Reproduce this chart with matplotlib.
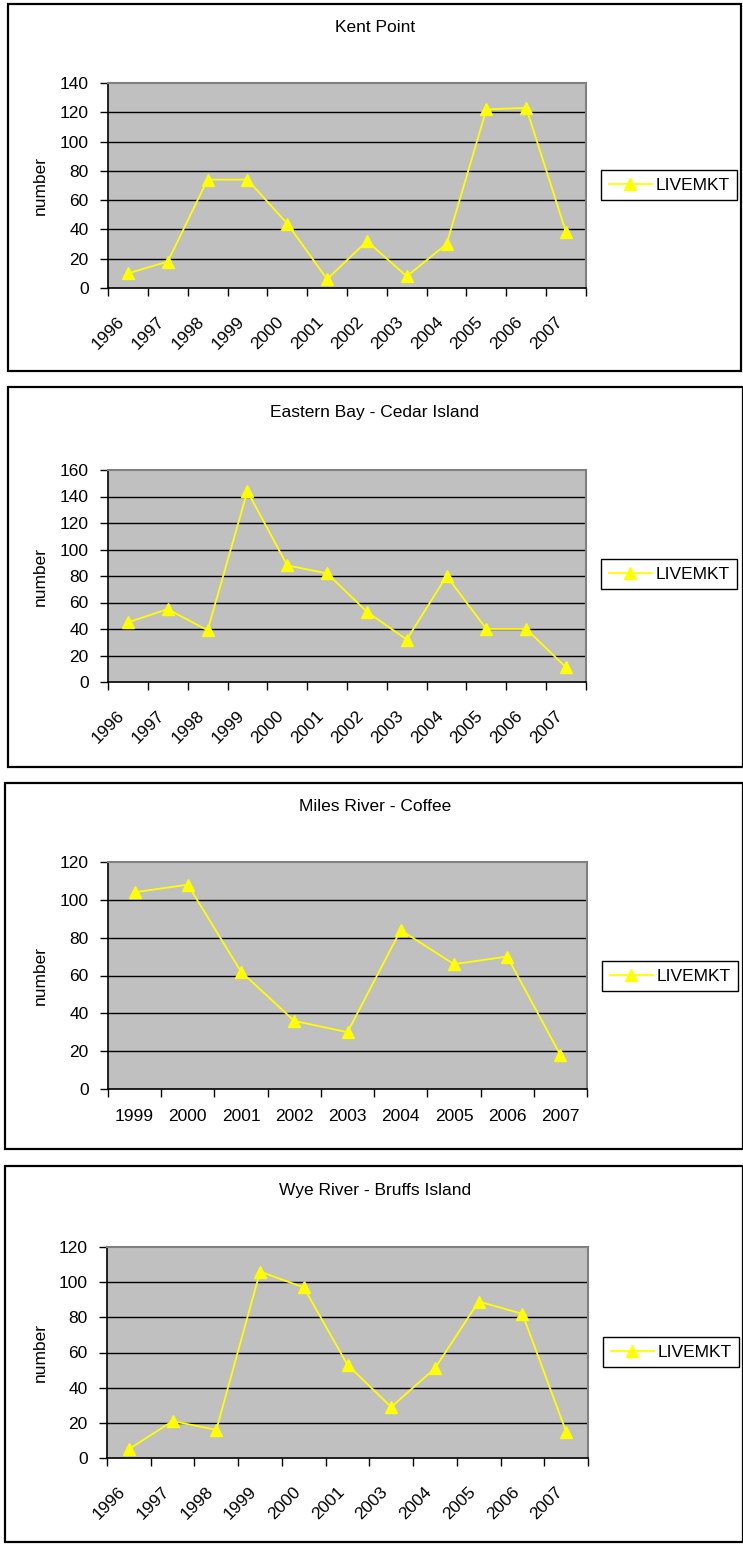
import numpy as np
import matplotlib
matplotlib.use("Agg")
import matplotlib.pyplot as plt
from matplotlib.patches import Rectangle
from matplotlib.transforms import ScaledTranslation, blended_transform_factory

plt.rcParams['font.family'] = ['Liberation Sans', 'DejaVu Sans']

# ---- data -------------------------------------------------------------
kent_years = ["1996", "1997", "1998", "1999", "2000", "2001",
              "2002", "2003", "2004", "2005", "2006", "2007"]
kent_live = [10, 18, 74, 74, 44, 6, 32, 8, 30, 122, 123, 38]

eastern_years = ["1996", "1997", "1998", "1999", "2000", "2001",
                 "2002", "2003", "2004", "2005", "2006", "2007"]
eastern_live = [45, 55, 39, 144, 88, 82, 53, 32, 80, 40, 40, 11]

miles_years = ["1999", "2000", "2001", "2002", "2003",
               "2004", "2005", "2006", "2007"]
miles_live = [104, 108, 62, 36, 30, 84, 66, 70, 18]

wye_years = ["1996", "1997", "1998", "1999", "2000", "2001",
             "2003", "2004", "2005", "2006", "2007"]
wye_live = [5, 21, 16, 106, 97, 53, 29, 51, 89, 82, 15]

titles = ["Kent Point", "Eastern Bay - Cedar Island",
          "Miles River - Coffee", "Wye River - Bruffs Island"]
y_max = [140, 160, 120, 120]
rotated = [True, True, False, True]
series_name = "LIVEMKT"

# ---- layout (pixels) --------------------------------------------------
W, H = 743, 1546
fig = plt.figure(figsize=(W / 100, H / 100), dpi=100)
fig.patch.set_facecolor("white")


def fx(x):
    return x / W


def fy(y):
    return 1 - y / H


panels = [
    # box(x0,y0,x1,y1), title_y, plot(x0,y0,x1,y1), legend center(x,y)
    ((8, 4, 741, 371), 28, (108, 83, 586, 288), (669, 185)),
    ((8, 387, 743, 767), 413, (108, 470, 586, 682), (669, 574)),
    ((5, 783, 743, 1149), 807, (108, 862, 587, 1089), (670, 976)),
    ((5, 1166, 743, 1542), 1191, (107, 1247, 588, 1458), (671, 1352)),
]

datasets = [(kent_years, kent_live), (eastern_years, eastern_live),
            (miles_years, miles_live), (wye_years, wye_live)]

FS = 12.5

for i, ((bx0, by0, bx1, by1), ty, (px0, py0, px1, py1), (lx, ly)) in enumerate(panels):
    years, vals = datasets[i]
    n = len(years)

    # outer chart frame
    fig.patches.append(Rectangle((fx(bx0), fy(by1)), fx(bx1 - bx0), (by1 - by0) / H,
                                 transform=fig.transFigure, fill=False,
                                 edgecolor="black", linewidth=1.6, zorder=0))
    fig.text(fx(375), fy(ty), titles[i], ha="center", va="center", fontsize=FS)

    ax = fig.add_axes([fx(px0), fy(py1), fx(px1 - px0), (py1 - py0) / H])
    ax.set_facecolor("#C0C0C0")
    x = np.arange(n) + 0.5
    line, = ax.plot(x, vals, color="#FFFF00", linewidth=1.3, marker="^",
                    markersize=9, markerfacecolor="#FFFF00",
                    markeredgecolor="#FFFF00", zorder=3, label=series_name,
                    clip_on=False)

    ax.set_xlim(0, n)
    ax.set_ylim(0, y_max[i])
    ax.set_yticks(np.arange(0, y_max[i] + 1, 20))
    for yv in np.arange(20, y_max[i], 20):
        ax.axhline(yv, color="black", linewidth=1.0, zorder=1)

    # category boundaries carry tick marks; year labels sit at the centres
    ax.set_xticks(np.arange(n + 1))
    ax.set_xticklabels([])
    ax.tick_params(axis="x", which="major", direction="out", length=6,
                   width=1, color="black")
    base = blended_transform_factory(ax.transData, ax.transAxes)
    if rotated[i]:
        off = ScaledTranslation(-11 / 100, -26 / 100, fig.dpi_scale_trans)
        for xc, lab in zip(x, years):
            ax.text(xc, 0, lab, transform=base + off, rotation=45,
                    rotation_mode="anchor", ha="right", va="top",
                    fontsize=FS, clip_on=False)
    else:
        off = ScaledTranslation(0, -20 / 100, fig.dpi_scale_trans)
        for xc, lab in zip(x, years):
            ax.text(xc, 0, lab, transform=base + off, ha="center", va="top",
                    fontsize=FS, clip_on=False)

    ax.tick_params(axis="y", direction="out", length=6, width=1,
                   color="black", labelsize=FS, pad=8)

    ax.spines["left"].set_color("black")
    ax.spines["bottom"].set_color("black")
    ax.spines["left"].set_linewidth(1.2)
    ax.spines["bottom"].set_linewidth(1.2)
    ax.spines["top"].set_color("#808080")
    ax.spines["right"].set_color("#808080")
    ax.spines["top"].set_linewidth(1.5)
    ax.spines["right"].set_linewidth(1.5)

    fig.text(fx(40), fy((py0 + py1) / 2), "number", rotation=90,
             ha="center", va="center", fontsize=FS)

    leg = ax.legend(handles=[line], loc="center",
                    bbox_to_anchor=(fx(lx), fy(ly)),
                    bbox_transform=fig.transFigure, frameon=True,
                    fancybox=False, shadow=False, fontsize=FS,
                    handlelength=2.5, handletextpad=0.2, borderpad=0.45,
                    borderaxespad=0)
    leg.get_frame().set_edgecolor("black")
    leg.get_frame().set_linewidth(1.0)
    leg.get_frame().set_facecolor("white")
    leg.get_frame().set_alpha(1)

fig.savefig("out.png", dpi=100, facecolor="white")
